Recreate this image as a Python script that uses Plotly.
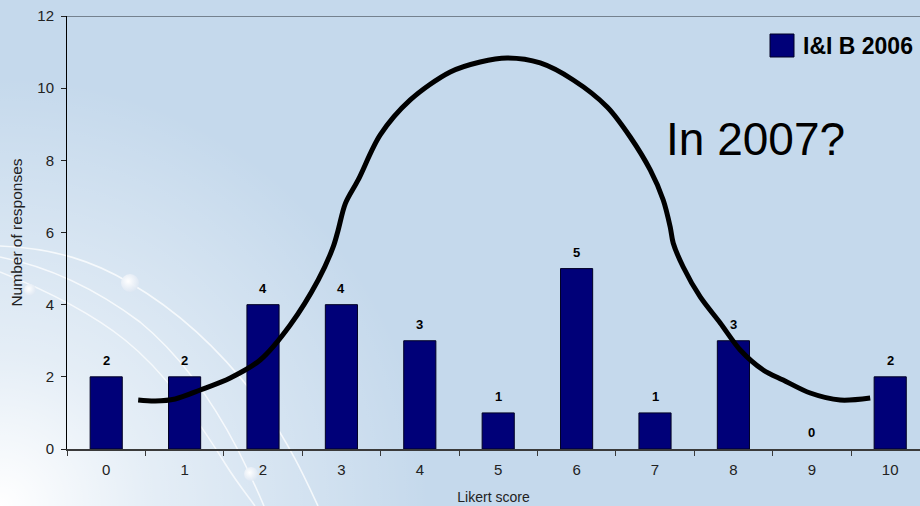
import base64
import plotly.graph_objects as go

# ---- data ----
scores = [0, 1, 2, 3, 4, 5, 6, 7, 8, 9, 10]
responses = [2, 2, 4, 4, 3, 1, 5, 1, 3, 0, 2]
series_name = "I&I B 2006"

# hand-drawn bell curve (in data units)
curve_x = [0.408, 0.625, 0.880, 1.199, 1.582, 1.964, 2.347, 2.704, 2.895, 2.959, 3.050,
           3.214, 3.495, 3.878, 4.388, 4.770, 5.115, 5.536, 5.957, 6.390, 6.684,
           6.939, 7.105, 7.194, 7.232, 7.360, 7.577, 7.832, 8.087, 8.380, 8.635,
           8.980, 9.362, 9.745]
curve_y = [1.358, 1.330, 1.386, 1.635, 1.968, 2.467, 3.437, 4.684, 5.599, 6.070, 6.800,
           7.456, 8.703, 9.673, 10.449, 10.726, 10.837, 10.698, 10.227, 9.479, 8.647,
           7.733, 6.901, 6.153, 5.710, 5.044, 4.213, 3.492, 2.744, 2.190, 1.912,
           1.552, 1.358, 1.414]

y_ticks = [0, 2, 4, 6, 8, 10, 12]
annotation_text = "In 2007?"

W, H = 920, 506
ML, MR, MT, MB = 67, 0, 16, 57
PW, PH = W - ML - MR, H - MT - MB
BAND = 78.4
BG = "#c5d9ec"
BAR = "#000078"
BAR_EDGE = "#000024"

# ---- decorative background (svg) ----
svg = f"""<svg xmlns='http://www.w3.org/2000/svg' width='{W}' height='{H}' viewBox='0 0 {W} {H}'>
<defs>
<radialGradient id='g' cx='0' cy='{H}' r='430' gradientUnits='userSpaceOnUse'>
<stop offset='0' stop-color='#ffffff' stop-opacity='1'/>
<stop offset='0.35' stop-color='#ffffff' stop-opacity='0.55'/>
<stop offset='1' stop-color='#ffffff' stop-opacity='0'/>
</radialGradient>
<radialGradient id='s' cx='0.4' cy='0.4' r='0.6'>
<stop offset='0' stop-color='#ffffff' stop-opacity='1'/>
<stop offset='1' stop-color='#dfe8f3' stop-opacity='0.9'/>
</radialGradient>
</defs>
<rect width='{W}' height='{H}' fill='{BG}'/>
<rect width='{W}' height='{H}' fill='url(#g)'/>
<path d='M0,246 C55,248 95,262 130,283 C180,312 225,355 262,405 C290,445 305,478 318,506' stroke='#ffffff' stroke-opacity='0.75' stroke-width='1.6' fill='none'/>
<path d='M0,257 C55,268 100,292 140,322 C180,355 212,400 238,450 C250,474 258,492 264,506' stroke='#ffffff' stroke-opacity='0.75' stroke-width='1.6' fill='none'/>
<path d='M0,272 C45,290 90,312 125,340 C165,372 198,420 226,465 C238,484 248,496 255,506' stroke='#ffffff' stroke-opacity='0.7' stroke-width='1.6' fill='none'/>
<circle cx='130' cy='283' r='9' fill='url(#s)'/>
<circle cx='30' cy='290' r='6' fill='url(#s)'/>
<circle cx='251' cy='474' r='7' fill='url(#s)'/>
</svg>"""
svg_uri = "data:image/svg+xml;base64," + base64.b64encode(svg.encode()).decode()

x_max = -0.5 + PW / BAND

fig = go.Figure()

fig.add_trace(go.Bar(
    x=scores, y=responses, name=series_name, width=0.41,
    marker=dict(color=BAR,
                line=dict(color=BAR_EDGE, width=[1 if r > 0 else 0 for r in responses])),
    showlegend=False, hoverinfo="x+y",
))

fig.add_trace(go.Scatter(
    x=curve_x, y=curve_y, mode="lines",
    line=dict(color="#000000", width=5, shape="spline", smoothing=0.9),
    showlegend=False, hoverinfo="skip",
))

# data labels above bars
label_annotations = [
    dict(x=s, y=r, xref="x", yref="y", text=f"<b>{r}</b>", showarrow=False,
         yanchor="bottom", yshift=7,
         font=dict(family="Arial, Liberation Sans", size=13, color="#000000"))
    for s, r in zip(scores, responses)
]

fig.update_layout(
    width=W, height=H,
    margin=dict(l=ML, r=MR, t=MT, b=MB, autoexpand=False),
    paper_bgcolor=BG, plot_bgcolor="rgba(0,0,0,0)",
    font=dict(family="Arial, Liberation Sans", size=15, color="#222222"),
    images=[dict(source=svg_uri, xref="paper", yref="paper",
                 x=-ML / PW, y=1 + MT / PH, sizex=W / PW, sizey=H / PH,
                 sizing="stretch", xanchor="left", yanchor="top", layer="below")],
    xaxis=dict(
        range=[-0.5, x_max], tickvals=scores, ticktext=[str(s) for s in scores],
        ticks="", showgrid=False, zeroline=False,
        showline=True, linecolor="#3a3a3a", linewidth=2,
        minor=dict(tickvals=[i - 0.5 for i in range(11)], ticks="outside", ticklen=5,
                   tickcolor="#3a3a3a", tickwidth=1, showgrid=False),
        tickfont=dict(size=15, color="#222222"), ticklabelstandoff=6,
        title=dict(text="Likert score", font=dict(size=14, color="#222222"), standoff=15),
        automargin=False, fixedrange=True,
    ),
    yaxis=dict(
        range=[0, 12], tickvals=y_ticks, ticks="outside", ticklen=5,
        tickcolor="#222222", showgrid=False, zeroline=False,
        showline=True, linecolor="#000000", linewidth=1,
        tickfont=dict(size=15, color="#222222"), ticklabelstandoff=4,
        title=dict(text="Number of responses", font=dict(size=15.5, color="#222222"), standoff=10),
        automargin=False, fixedrange=True,
    ),
    shapes=[
        dict(type="line", xref="paper", yref="y", x0=0, x1=1, y0=12, y1=12,
             line=dict(color="#5a6470", width=1.5)),
        dict(type="rect", xref="paper", yref="paper",
             x0=(770 - ML) / PW, x1=(794 - ML) / PW,
             y0=(H - MB - 57) / PH, y1=(H - MB - 34) / PH,
             fillcolor=BAR, line=dict(color=BAR_EDGE, width=1)),
    ],
    annotations=label_annotations + [
        dict(text="<b>" + series_name.replace("&", "&amp;") + "</b>", xref="paper", yref="paper",
             x=(801 - ML) / PW, y=(H - MB - 46) / PH, xanchor="left", yanchor="middle",
             showarrow=False, font=dict(size=23, color="#000000")),
        dict(text=annotation_text, xref="paper", yref="paper",
             x=(664 - ML) / PW, y=(H - MB - 139) / PH, xanchor="left", yanchor="middle",
             showarrow=False, font=dict(size=46, color="#000000")),
    ],
)

fig.write_html(
    "out.html",
    config={"displayModeBar": False},
    post_script="document.body.style.margin='0';document.body.style.overflow='hidden';",
)
